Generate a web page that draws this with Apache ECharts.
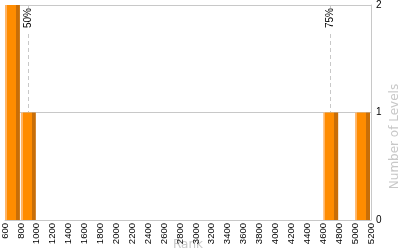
<!DOCTYPE html>
<html>
<head>
<meta charset="utf-8">
<script src="https://cdn.jsdelivr.net/npm/echarts@6/dist/echarts.min.js"></script>
<style>
  html, body { margin: 0; padding: 0; background: #fff; }
  #chart { width: 400px; height: 250px; }
</style>
</head>
<body>
<div id="chart"></div>
<script>
// Histogram bins (rank ranges) and counts
const binStarts = [600, 800, 4600, 5000];
const binEnds = [800, 1000, 4800, 5200];
const levelCounts = [2, 1, 1, 1];

// Percentile markers
const percentileNames = ['50%', '75%'];
const percentileRanks = [890, 4690];

// Axis settings
const xMin = 600, xMax = 5200, xStep = 200;
const yMin = 0, yMax = 2, yStep = 1;

const barData = binStarts.map((s, i) => [s, binEnds[i], levelCounts[i]]);

const chart = echarts.init(document.getElementById('chart'), null, { renderer: 'canvas' });

const barFill = new echarts.graphic.LinearGradient(0, 0, 1, 0, [
  { offset: 0, color: '#ffb566' },
  { offset: 0.14, color: '#ffb566' },
  { offset: 0.14, color: '#ff8c00' },
  { offset: 0.74, color: '#ff8c00' },
  { offset: 0.74, color: '#c86e08' },
  { offset: 1, color: '#c86e08' }
]);

const gridColor = '#c8c8c8';
const nameColor = '#c8c8c8';

chart.setOption({
  animation: false,
  backgroundColor: '#fff',
  grid: { left: 5, right: 29, top: 5, bottom: 30, containLabel: false, outerBoundsMode: 'none' },
  xAxis: {
    type: 'value',
    min: xMin, max: xMax, interval: xStep,
    name: 'Rank',
    nameLocation: 'middle',
    nameGap: 19,
    nameMoveOverlap: false,
    nameTextStyle: { color: nameColor, fontSize: 12, fontFamily: 'DejaVu Sans' },
    axisLine: { show: true, lineStyle: { color: gridColor, width: 1 } },
    axisTick: { show: false },
    splitLine: { show: false },
    axisLabel: {
      rotate: 90, margin: 3, color: '#000', fontSize: 9.5,
      fontFamily: 'Liberation Sans', showMinLabel: true, showMaxLabel: true,
      formatter: function (v) { return String(v); }
    }
  },
  yAxis: {
    type: 'value',
    position: 'right',
    min: yMin, max: yMax, interval: yStep,
    name: 'Number of Levels',
    nameLocation: 'middle',
    nameGap: 18,
    nameMoveOverlap: false,
    nameTextStyle: { color: nameColor, fontSize: 12, fontFamily: 'DejaVu Sans', padding: [0, 48, 0, 0] },
    axisLine: { show: true, lineStyle: { color: gridColor, width: 1 } },
    axisTick: { show: false },
    splitLine: { show: true, lineStyle: { color: gridColor, width: 1 } },
    axisLabel: { margin: 5, color: '#000', fontSize: 10, fontFamily: 'Liberation Sans' }
  },
  series: [{
    type: 'custom',
    z: 2,
    encode: { x: [0, 1], y: 2 },
    data: barData,
    renderItem: function (params, api) {
      const topLeft = api.coord([api.value(0), api.value(2)]);
      const bottomRight = api.coord([api.value(1), 0]);
      return {
        type: 'rect',
        shape: {
          x: topLeft[0],
          y: topLeft[1],
          width: bottomRight[0] - topLeft[0] - 1,
          height: bottomRight[1] - topLeft[1]
        },
        style: { fill: barFill }
      };
    },
    markLine: {
      silent: true,
      z: 1,
      symbol: ['none', 'none'],
      lineStyle: { color: gridColor, type: [4, 3], width: 1 },
      label: {
        show: true,
        position: 'insideEnd',
        formatter: '{b}',
        color: '#000',
        fontSize: 10,
        fontFamily: 'Liberation Sans',
        distance: 3,
        backgroundColor: '#fff',
        padding: [0, 0, 0, 4]
      },
      data: percentileRanks.map((v, i) => ({ xAxis: v, name: percentileNames[i] }))
    }
  }]
});
</script>
</body>
</html>
